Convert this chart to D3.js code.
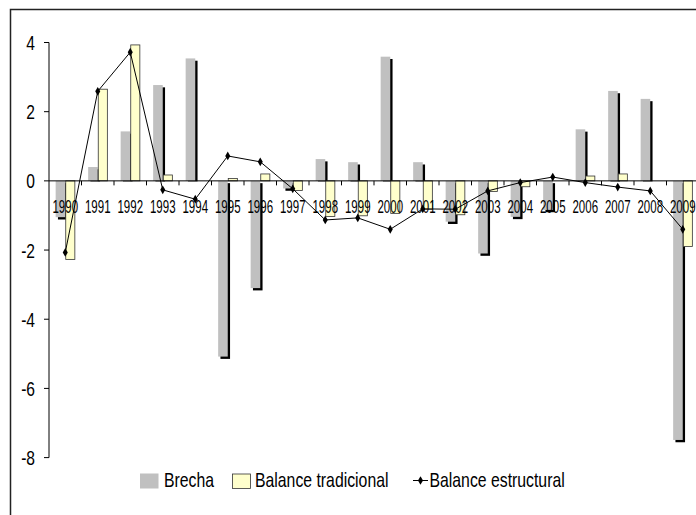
<!DOCTYPE html>
<html>
<head>
<meta charset="utf-8">
<script src="https://cdn.jsdelivr.net/npm/d3@7/dist/d3.min.js"></script>
<style>
  html, body { margin: 0; padding: 0; background: #fff; }
  svg { display: block; }
  text { font-family: "Liberation Sans", Arial, sans-serif; fill: #000; }
</style>
</head>
<body>
<svg id="chart" width="696" height="515"></svg>
<script>
const years = ["1990","1991","1992","1993","1994","1995","1996","1997","1998","1999",
               "2000","2001","2002","2003","2004","2005","2006","2007","2008","2009"];
const brecha = [-1.05, 0.4, 1.43, 2.77, 3.54, -5.08, -3.1, -0.22, 0.63, 0.54,
                3.59, 0.54, -1.18, -2.1, -1.04, -0.84, 1.49, 2.6, 2.37, -7.49];
const balanceTradicional = [-2.27, 2.65, 3.93, 0.17, 0, 0.07, 0.2, -0.28, -1.03, -1.01,
                            -0.94, -0.82, -0.98, -0.31, -0.17, 0, 0.14, 0.2, 0, -1.9];
const balanceEstructural = [-2.07, 2.59, 3.72, -0.26, -0.53, 0.72, 0.55, -0.23, -1.13, -1.07,
                            -1.40, -0.81, -0.82, -0.29, -0.05, 0.11, -0.05, -0.18, -0.29, -1.40];
const yTicks = [4, 2, 0, -2, -4, -6, -8];
const seriesNames = ["Brecha", "Balance tradicional", "Balance estructural"];

const svg = d3.select("#chart");

// chart area border (cropped on right/bottom)
svg.append("rect").attr("x", 10.5).attr("y", 9.5).attr("width", 700).attr("height", 520)
  .attr("fill", "#fff").attr("stroke", "#222").attr("stroke-width", 1.5);

const x = d3.scaleBand().domain(years).range([49, 699]);
const y = d3.scaleLinear().domain([-8, 4]).range([457.6, 42.5]);
const bw = 9.6;
const off = 2.3;
const cx = d => x(d) + x.bandwidth() / 2;

const data = years.map((yr, i) => ({yr, b: brecha[i], t: balanceTradicional[i], e: balanceEstructural[i]}));

// Brecha shadow
svg.append("g").selectAll("rect").data(data).join("rect")
  .attr("x", d => cx(d.yr) - bw + off)
  .attr("y", d => Math.min(y(d.b), y(0)) + off)
  .attr("width", bw)
  .attr("height", d => d.b >= 0 ? Math.max(0, y(0) - y(d.b) - off + 0.5) : y(d.b) - y(0))
  .attr("fill", "#000");
// Brecha bars
svg.append("g").selectAll("rect").data(data).join("rect")
  .attr("x", d => cx(d.yr) - bw)
  .attr("y", d => Math.min(y(d.b), y(0)))
  .attr("width", bw)
  .attr("height", d => Math.abs(y(d.b) - y(0)))
  .attr("fill", "#C0C0C0");
// Balance tradicional bars
svg.append("g").selectAll("rect").data(data.filter(d => d.t !== 0)).join("rect")
  .attr("x", d => cx(d.yr) + 0.5)
  .attr("y", d => Math.min(y(d.t), y(0)))
  .attr("width", bw - 0.5)
  .attr("height", d => Math.abs(y(d.t) - y(0)))
  .attr("fill", "#FFFFCC").attr("stroke", "#333").attr("stroke-width", 0.8);

// Y axis
const yAxis = svg.append("g");
yAxis.append("line").attr("x1", 49).attr("x2", 49).attr("y1", y(4)).attr("y2", y(-8))
  .attr("stroke", "#000").attr("stroke-width", 1);
yAxis.selectAll("line.tk").data(yTicks).join("line").attr("class", "tk")
  .attr("x1", 44).attr("x2", 49).attr("y1", d => y(d)).attr("y2", d => y(d))
  .attr("stroke", "#000");
yAxis.selectAll("text").data(yTicks).join("text")
  .attr("transform", d => `translate(35,${y(d) + 7.5}) scale(0.8,1)`)
  .attr("text-anchor", "end").attr("font-size", 19.5)
  .text(d => d);

// X axis at zero
const xAxis = svg.append("g");
xAxis.append("line").attr("x1", 49).attr("x2", 699).attr("y1", y(0)).attr("y2", y(0))
  .attr("stroke", "#000").attr("stroke-width", 1);
xAxis.selectAll("line.tk").data(years.slice(1)).join("line").attr("class", "tk")
  .attr("x1", d => x(d)).attr("x2", d => x(d))
  .attr("y1", y(0)).attr("y2", y(0) + 4.5)
  .attr("stroke", "#000");

// Balance estructural line
const line = d3.line().x(d => cx(d.yr)).y(d => y(d.e));
svg.append("path").datum(data).attr("d", line)
  .attr("fill", "none").attr("stroke", "#000").attr("stroke-width", 1);
const diamond = d3.symbol().type(d3.symbolDiamond).size(22);
svg.append("g").selectAll("path").data(data).join("path")
  .attr("transform", d => `translate(${cx(d.yr)},${y(d.e)})`)
  .attr("d", diamond).attr("fill", "#000");

// X labels
svg.append("g").selectAll("text").data(years).join("text")
  .attr("transform", d => `translate(${cx(d)},${y(0) + 31.7}) scale(0.65,1)`)
  .attr("text-anchor", "middle").attr("font-size", 17.7)
  .text(d => d);

// Legend
const lg = svg.append("g");
lg.append("rect").attr("x", 140).attr("y", 473.5).attr("width", 18.5).attr("height", 15)
  .attr("fill", "#C0C0C0");
lg.append("text").attr("transform", "translate(164,487) scale(0.79,1)")
  .attr("font-size", 20).text(seriesNames[0]);
lg.append("rect").attr("x", 232.5).attr("y", 474).attr("width", 18).attr("height", 14.5)
  .attr("fill", "#FFFFCC").attr("stroke", "#333").attr("stroke-width", 0.8);
lg.append("text").attr("transform", "translate(255,487) scale(0.79,1)")
  .attr("font-size", 20).text(seriesNames[1]);
lg.append("line").attr("x1", 413).attr("x2", 428).attr("y1", 480.5).attr("y2", 480.5)
  .attr("stroke", "#000");
lg.append("path").attr("transform", "translate(420.5,480.5)").attr("d", diamond).attr("fill", "#000");
lg.append("text").attr("transform", "translate(429.5,487) scale(0.79,1)")
  .attr("font-size", 20).text(seriesNames[2]);
</script>
</body>
</html>
